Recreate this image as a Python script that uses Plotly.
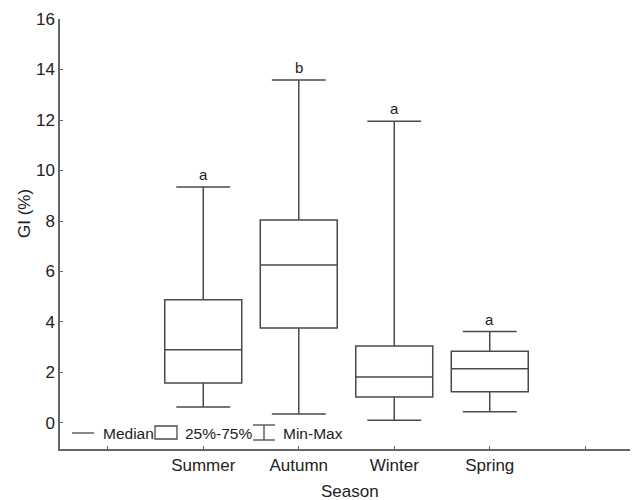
import plotly.graph_objects as go

seasons = ["Summer", "Autumn", "Winter", "Spring"]
positions = [1, 2, 3, 4]
mins = [0.63, 0.36, 0.11, 0.45]
q1s = [1.58, 3.76, 1.03, 1.24]
medians = [2.90, 6.26, 1.82, 2.15]
q3s = [4.88, 8.04, 3.05, 2.84]
maxs = [9.35, 13.58, 11.95, 3.62]
letters = ["a", "b", "a", "a"]
tick_vals = [0, 1, 2, 3, 4, 5]
tick_text = ["", "Summer", "Autumn", "Winter", "Spring", ""]
y_ticks = [0, 2, 4, 6, 8, 10, 12, 14, 16]

FONT = "Liberation Sans, Arial, sans-serif"
LC = "#4a4a4a"
TC = "#222"
PAD = 8  # page body margin of the browser
L, R, T, B = 60, 633, 19, 449  # plot area in page pixels
PW, PH = R - L, B - T


def px(x):
    return (x - L) / PW


def py(y):
    return (B - y) / PH


fig = go.Figure()
fig.add_trace(go.Box(
    x=positions, q1=q1s, median=medians, q3=q3s,
    lowerfence=mins, upperfence=maxs,
    width=0.806, whiskerwidth=0.7,
    line=dict(color=LC, width=1.5),
    fillcolor="white", boxpoints=False, showlegend=False,
    hoverinfo="skip",
))

for p, m, t in zip(positions, maxs, letters):
    fig.add_annotation(x=p, y=m, text=t, showarrow=False, yanchor="bottom",
                       yshift=2, font=dict(family=FONT, size=15, color=TC))

# legend drawn manually (paper coords)
shp = dict(xref="paper", yref="paper", line=dict(color=LC, width=1.3))
fig.add_shape(type="line", x0=px(72), x1=px(94), y0=py(433), y1=py(433), **shp)
fig.add_shape(type="rect", x0=px(155), x1=px(177), y0=py(439), y1=py(426), **shp)
fig.add_shape(type="line", x0=px(253), x1=px(275), y0=py(425), y1=py(425), **shp)
fig.add_shape(type="line", x0=px(264), x1=px(264), y0=py(440), y1=py(425), **shp)
fig.add_shape(type="line", x0=px(253), x1=px(275), y0=py(440), y1=py(440), **shp)
for xl, txt in [(103, "Median"), (185, "25%-75%"), (283, "Min-Max")]:
    fig.add_annotation(x=px(xl), y=py(433), xref="paper", yref="paper", text=txt,
                       showarrow=False, xanchor="left", yanchor="middle",
                       xshift=-2, font=dict(family=FONT, size=15.5, color=TC))

fig.add_annotation(x=px(24), y=py(214), xref="paper", yref="paper",
                   text="GI (%)", textangle=-90, showarrow=False,
                   xanchor="center", yanchor="middle",
                   font=dict(family=FONT, size=17, color=TC))
fig.add_annotation(x=px(350), y=py(491), xref="paper", yref="paper",
                   text="Season", showarrow=False, xanchor="center", yanchor="middle",
                   font=dict(family=FONT, size=17, color=TC))

fig.update_layout(
    width=638 - PAD, height=500 - PAD,
    margin=dict(l=L - PAD, r=638 - R, t=T - PAD, b=500 - B, autoexpand=False),
    paper_bgcolor="white", plot_bgcolor="white",
    font=dict(family=FONT, size=17, color=TC),
    xaxis=dict(range=[-0.5, 5.5], tickvals=tick_vals, ticktext=tick_text,
               showgrid=False, zeroline=False, showline=True, linecolor="#666",
               linewidth=1.5, ticks="inside", ticklen=3, tickcolor="#666",
               automargin=False, tickfont=dict(size=17)),
    yaxis=dict(range=[-1.03, 16], tickvals=y_ticks, showgrid=False,
               zeroline=False, showline=True, linecolor="#666", linewidth=1.5,
               ticks="inside", ticklen=3, tickcolor="#666", automargin=False,
               tickfont=dict(size=17)),
)

fig.write_html("out.html")
